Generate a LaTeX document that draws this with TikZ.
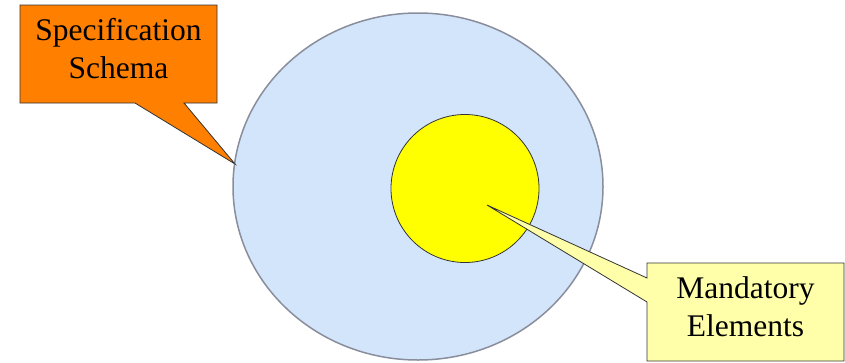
\documentclass[tikz,border=0pt]{standalone}
\usepackage{fontspec}
\setmainfont{Liberation Serif}
\definecolor{outerfill}{HTML}{D2E5FB}
\definecolor{outerline}{HTML}{8A8E9C}
\definecolor{calloutorange}{HTML}{FF7F00}
\definecolor{calloutyellow}{HTML}{FFFFAA}
\definecolor{innerfill}{HTML}{FFFF00}
\begin{document}
\begin{tikzpicture}[x=1pt,y=-1pt,
  calloutshape/.style={draw=black!80,line width=0.8pt,line join=miter},
  callouttext/.style={align=center,inner sep=0pt,font=\fontsize{31.5}{38}\selectfont}]
\useasboundingbox (0,0) rectangle (845,362);
\fill[white] (0,0) rectangle (845,362);
% outer set
\draw[fill=outerfill,draw=outerline,line width=1.5pt] (418,186.5) ellipse [x radius=185, y radius=173.5];
% orange callout
\coordinate (tipA) at (235,164);
\filldraw[calloutshape,fill=calloutorange] (20,5) -- (217,5) -- (217,103) -- (184,103) -- (tipA) -- (135,103) -- (20,103) -- cycle;
\node[callouttext] (spec) at (118.5,48.5) {Specification\\Schema};
% inner set
\draw[fill=innerfill,draw=black!80,line width=0.8pt] (465,188.5) circle [radius=74];
% yellow callout
\coordinate (tipB) at (487,205);
\filldraw[calloutshape,fill=calloutyellow] (647,263) -- (844,263) -- (844,361) -- (647,361) -- (647,302) -- (tipB) -- (647,278) -- cycle;
\node[callouttext] (mand) at (745.5,306.5) {Mandatory\\Elements};
\end{tikzpicture}
\end{document}
